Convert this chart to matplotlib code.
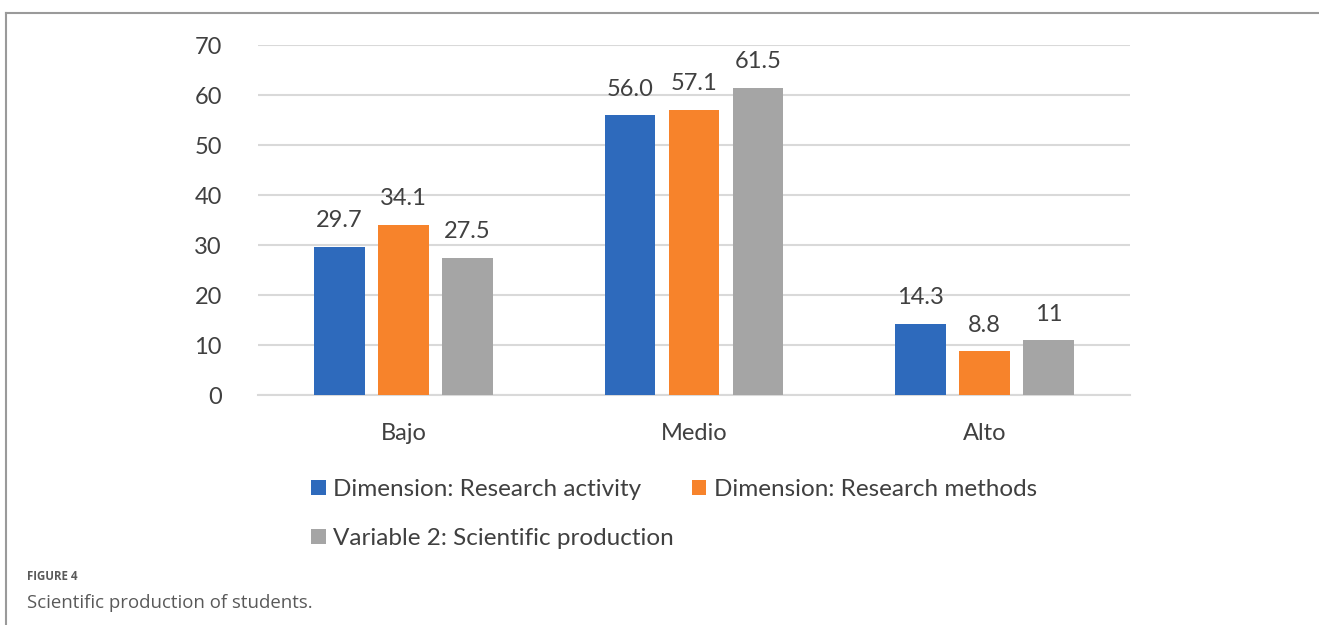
import matplotlib
matplotlib.use('Agg')
import matplotlib.pyplot as plt
from matplotlib.lines import Line2D
import numpy as np

categories = ['Bajo', 'Medio', 'Alto']
series_names = ['Dimension: Research activity', 'Dimension: Research methods',
                'Variable 2: Scientific production']
research_activity = [29.7, 56.0, 14.3]
research_methods = [34.1, 57.1, 8.8]
scientific_production = [27.5, 61.5, 11]
value_labels = [['29.7', '56.0', '14.3'], ['34.1', '57.1', '8.8'], ['27.5', '61.5', '11']]
colors = ['#2E6ABC', '#F7832B', '#A5A5A5']

plt.rcParams['font.family'] = ['Lato', 'DejaVu Sans']
text_color = '#404040'

fig = plt.figure(figsize=(13.19, 6.25), dpi=100)
ax = fig.add_axes([258 / 1319, 1 - 395 / 625, 872 / 1319, 350 / 625])

x = np.arange(len(categories))
width = 0.174
offsets = [-0.22, 0, 0.22]
all_values = [research_activity, research_methods, scientific_production]
handles = []
for i, vals in enumerate(all_values):
    bars = ax.bar(x + offsets[i], vals, width, color=colors[i], label=series_names[i], zorder=3)
    handles.append(bars)
    for b, lab in zip(bars, value_labels[i]):
        ax.annotate(lab, (b.get_x() + b.get_width() / 2, b.get_height()),
                    xytext=(0, 14), textcoords='offset points', ha='center', va='baseline',
                    fontsize=17, color=text_color)

ax.set_xlim(-0.5, 2.5)
ax.set_ylim(0, 70)
ax.set_yticks(range(0, 71, 10))
ax.set_xticks(x)
ax.set_xticklabels(categories)
ax.tick_params(axis='both', length=0, labelsize=17, labelcolor=text_color)
ax.tick_params(axis='y', pad=26)
ax.tick_params(axis='x', pad=20)
ax.yaxis.grid(True, color='#D9D9D9', linewidth=1.5, zorder=0)
ax.set_axisbelow(True)
for s in ['top', 'right', 'left']:
    ax.spines[s].set_visible(False)
ax.spines['bottom'].set_color('#D9D9D9')
ax.spines['bottom'].set_linewidth(1.5)

leg = fig.legend([handles[0], handles[2], handles[1]],
                 [series_names[0], series_names[2], series_names[1]],
                 ncol=2, loc='upper left', bbox_to_anchor=(311 / 1319, 1 - 479 / 625),
                 frameon=False, fontsize=17.5, handlelength=0.6, handleheight=0.6,
                 handletextpad=0.3, columnspacing=0.75, labelspacing=1.15,
                 labelcolor=text_color, borderaxespad=0, borderpad=0)

# figure frame lines
fig.add_artist(Line2D([6 / 1319, 1], [1 - 13 / 625, 1 - 13 / 625], color='#9A9A9A', linewidth=1.5,
                      transform=fig.transFigure))
fig.add_artist(Line2D([6 / 1319, 6 / 1319], [0, 1 - 13 / 625], color='#9A9A9A', linewidth=1.5,
                      transform=fig.transFigure))

fig.text(27 / 1319, 1 - 577 / 625, 'FIGURE 4', fontsize=8.3, color='#5A5A5A', fontweight='bold',
         va='center', ha='left', family=['Open Sans', 'DejaVu Sans'])
fig.text(27 / 1319, 1 - 603 / 625, 'Scientific production of students.', fontsize=13.4,
         color='#595959', va='center', ha='left', family=['Open Sans', 'DejaVu Sans'])

fig.savefig('out.png', dpi=100)
